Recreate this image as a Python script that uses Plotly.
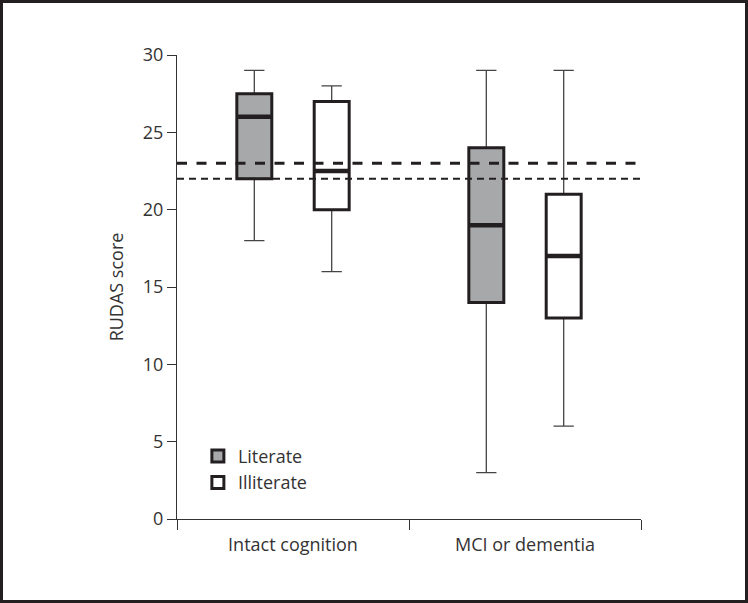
import plotly.graph_objects as go

categories = ["Intact cognition", "MCI or dementia"]
groups = ["Literate", "Illiterate"]
lower = {"Literate": [18, 3], "Illiterate": [16, 6]}
q1 = {"Literate": [22, 14], "Illiterate": [20, 13]}
median = {"Literate": [26, 19], "Illiterate": [22.5, 17]}
q3 = {"Literate": [27.5, 24], "Illiterate": [27, 21]}
upper = {"Literate": [29, 29], "Illiterate": [28, 29]}
fills = {"Literate": "#a7a8aa", "Illiterate": "#ffffff"}
cutoffs = [23, 22]

FONT = "Open Sans"
DARK = "#231f20"

fig = go.Figure()
for g in groups:
    # thin whiskers layer
    fig.add_trace(go.Box(
        x=categories, q1=q1[g], median=median[g], q3=q3[g],
        lowerfence=lower[g], upperfence=upper[g],
        fillcolor=fills[g], line=dict(color="#444444", width=1.3),
        whiskerwidth=0.58, offsetgroup=g, name=g, showlegend=False,
        hoverinfo="skip", boxpoints=False,
    ))
    # thick box outline layer
    fig.add_trace(go.Box(
        x=categories, q1=q1[g], median=median[g], q3=q3[g],
        lowerfence=q1[g], upperfence=q3[g],
        fillcolor=fills[g], line=dict(color=DARK, width=3),
        whiskerwidth=0, offsetgroup=g, name=g, showlegend=True,
        boxpoints=False,
    ))
    # thick median layer
    fig.add_trace(go.Box(
        x=categories, q1=median[g], median=median[g], q3=median[g],
        lowerfence=median[g], upperfence=median[g],
        fillcolor=fills[g], line=dict(color=DARK, width=4.5),
        whiskerwidth=0, offsetgroup=g, name=g, showlegend=False,
        hoverinfo="skip", boxpoints=False,
    ))

dashes = ["10px,9.5px", "7px,5px"]
widths = [2.8, 2]
for c, d, w in zip(cutoffs, dashes, widths):
    fig.add_shape(type="line", xref="paper", yref="y", x0=0, x1=1.005, y0=c, y1=c,
                  line=dict(color=DARK, width=w, dash=d), layer="above")

L, R, T, B = 177, 107, 55, 84
W, H = 748, 603
pw, ph = W - L - R, H - T - B
fig.add_shape(type="rect", xref="paper", yref="paper",
              x0=(-L + 1.5) / pw, x1=(pw + R - 1.5) / pw,
              y0=(-B + 1.5) / ph, y1=(ph + T - 1.5) / ph,
              line=dict(color=DARK, width=3), layer="below")

fig.update_layout(
    width=W, height=H,
    margin=dict(l=L, r=R, t=T, b=B, pad=0),
    paper_bgcolor="white", plot_bgcolor="white",
    boxmode="group", boxgap=0.333, boxgroupgap=0.548,
    font=dict(family=FONT, size=18, color="#333333"),
    showlegend=True,
    legend=dict(x=0.045, y=0.175, xanchor="left", yanchor="top",
                bgcolor="rgba(0,0,0,0)", font=dict(size=18, color="#333333"),
                tracegroupgap=0, itemwidth=30),
)
fig.update_xaxes(
    type="category", range=[-0.5, 1.5], showline=True, linecolor="#333333", linewidth=1.3,
    ticks="outside", tickson="boundaries", ticklen=10, tickcolor="#333333", tickwidth=1.3,
    ticklabelstandoff=9,
    showgrid=False, zeroline=False, tickfont=dict(size=18, color="#333333"),
)
fig.update_yaxes(
    range=[0, 30], tickvals=[0, 5, 10, 15, 20, 25, 30], showline=True, linecolor="#333333",
    linewidth=1.3, ticks="outside", ticklen=9, tickcolor="#333333", tickwidth=1.3,
    showgrid=False, zeroline=False, tickfont=dict(size=18, color="#333333"),
    title=dict(text="RUDAS score", font=dict(size=18, color="#333333"), standoff=14),
)

fig.write_html("out.html", config={"displayModeBar": False},
               post_script="document.body.style.margin='0px';document.body.style.overflow='hidden';")
